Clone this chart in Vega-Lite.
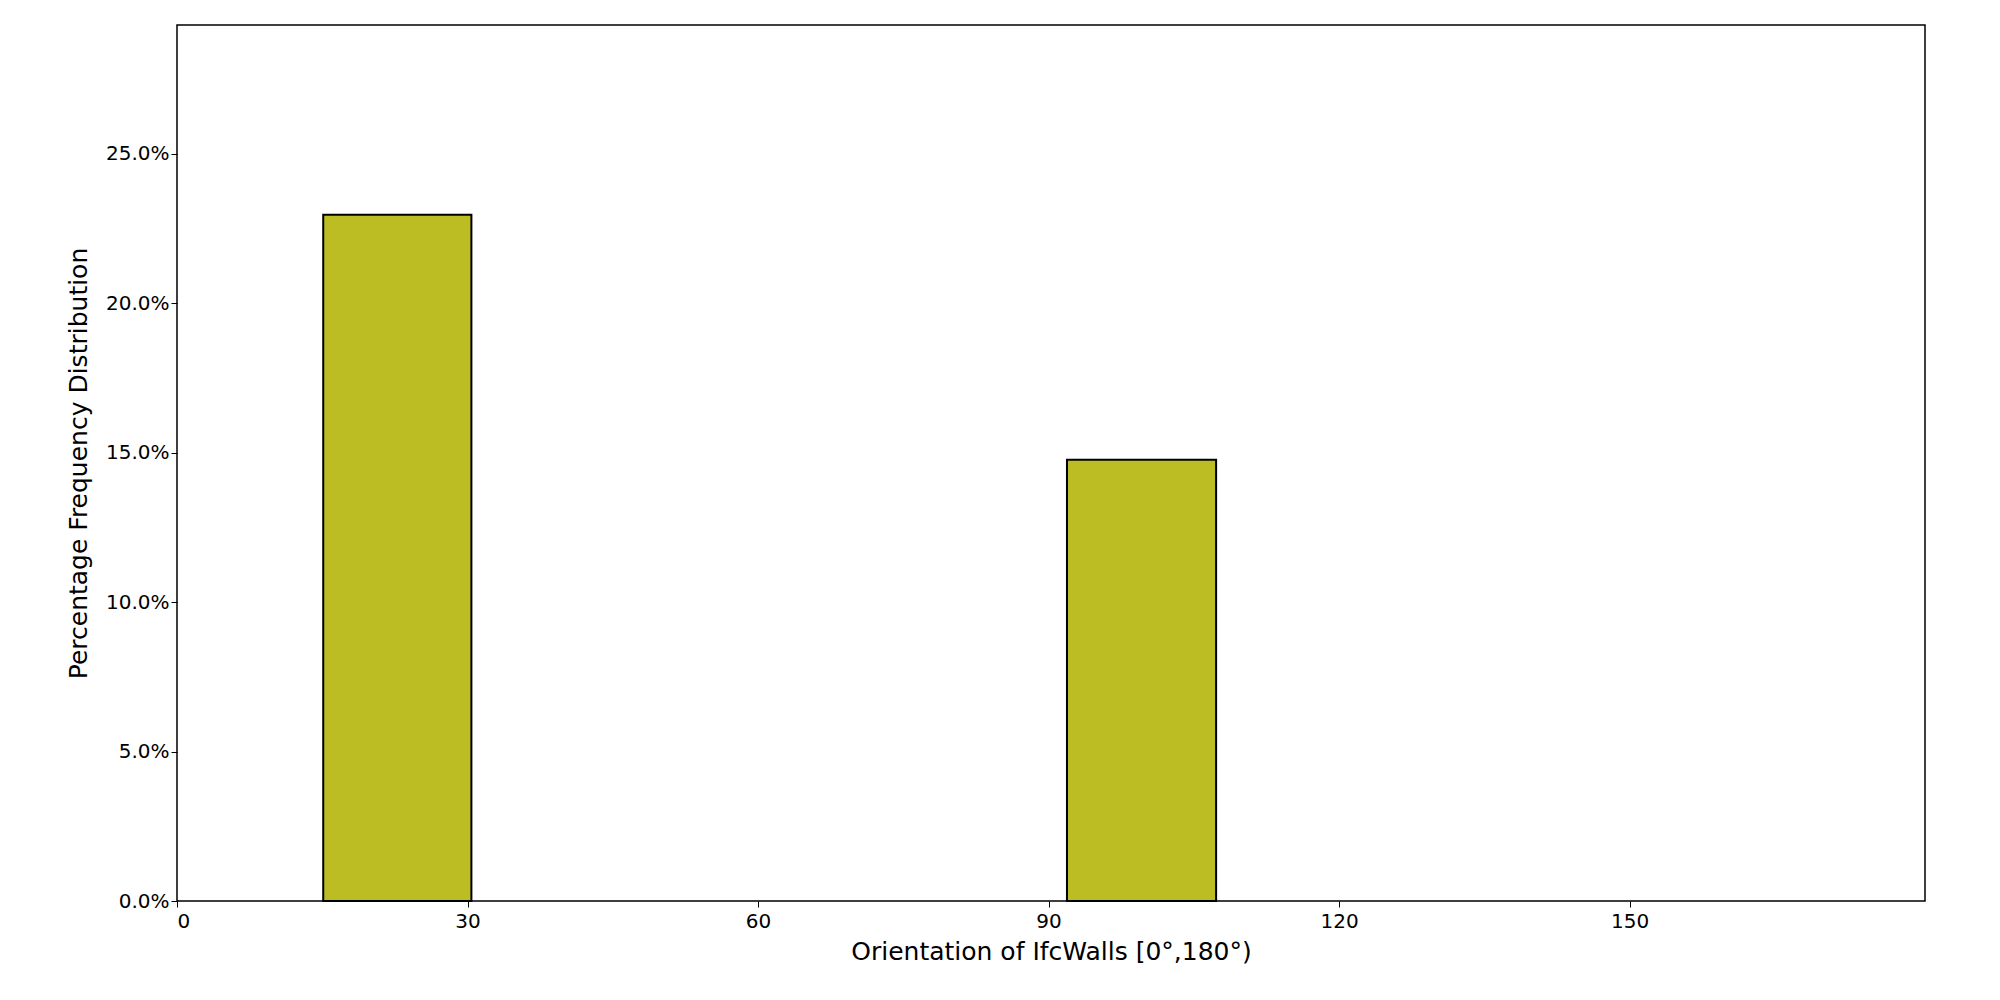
{
  "$schema": "https://vega.github.io/schema/vega-lite/v6.json",
  "width": 1748,
  "height": 876,
  "autosize": {"type": "none"},
  "padding": {"left": 177, "top": 25, "right": 75, "bottom": 99},
  "background": "white",
  "config": {
    "view": {"stroke": "black", "strokeWidth": 1.5},
    "font": "DejaVu Sans",
    "axis": {"grid": false, "domain": false, "tickColor": "black", "tickSize": 6, "labelColor": "black", "labelFontSize": 20, "titleFontSize": 25, "titleFontWeight": "normal", "titleColor": "black"}
  },
  "data": {"values": [
    {"start": 15.1, "end": 30.4, "pct": 0.2295},
    {"start": 91.9, "end": 107.3, "pct": 0.1476}
  ]},
  "mark": {"type": "bar", "color": "#bcbd22", "stroke": "black", "strokeWidth": 2, "opacity": 1},
  "encoding": {
    "x": {"field": "start", "type": "quantitative", "scale": {"domain": [0, 180.5], "nice": false, "zero": false},
      "axis": {"values": [0, 30, 60, 90, 120, 150], "title": "Orientation of IfcWalls [0°,180°)", "labelPadding": 4, "titlePadding": 8}},
    "x2": {"field": "end"},
    "y": {"field": "pct", "type": "quantitative", "scale": {"domain": [0, 0.293], "nice": false},
      "axis": {"values": [0, 0.05, 0.1, 0.15, 0.2, 0.25], "format": ".1%", "title": "Percentage Frequency Distribution", "titlePadding": 14}},
    "y2": {"datum": 0}
  }
}
